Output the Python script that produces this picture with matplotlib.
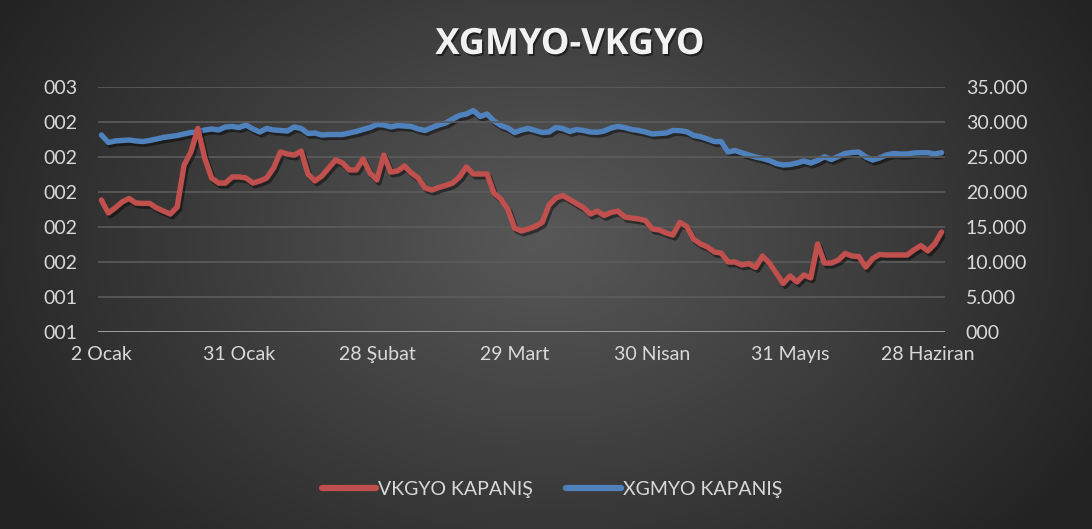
import numpy as np
import matplotlib
matplotlib.use('Agg')
import matplotlib.pyplot as plt
import matplotlib.patheffects as pe
from matplotlib.colors import LinearSegmentedColormap
from matplotlib.ticker import FuncFormatter, MultipleLocator

plt.rcParams['font.family'] = ['Lato', 'DejaVu Sans']

# VKGYO close (left axis) - one value per trading day
vkgyo = [1.954, 1.880, 1.909, 1.943, 1.963, 1.937, 1.935, 1.935, 1.909, 1.891,
         1.874, 1.914, 2.154, 2.229, 2.363, 2.194, 2.080, 2.051, 2.051, 2.086,
         2.086, 2.080, 2.051, 2.063, 2.080, 2.137, 2.229, 2.217, 2.211, 2.234,
         2.103, 2.063, 2.091, 2.137, 2.183, 2.166, 2.126, 2.126, 2.189, 2.109,
         2.069, 2.211, 2.114, 2.120, 2.149, 2.109, 2.080, 2.023, 2.011, 2.026,
         2.037, 2.051, 2.086, 2.143, 2.103, 2.103, 2.103, 1.994, 1.960, 1.903,
         1.794, 1.777, 1.789, 1.803, 1.826, 1.926, 1.966, 1.980, 1.957, 1.934,
         1.911, 1.874, 1.891, 1.866, 1.883, 1.891, 1.857, 1.851, 1.846, 1.837,
         1.789, 1.783, 1.766, 1.754, 1.826, 1.803, 1.731, 1.703, 1.686, 1.657,
         1.651, 1.600, 1.600, 1.583, 1.591, 1.569, 1.634, 1.594, 1.537, 1.477,
         1.520, 1.486, 1.526, 1.509, 1.703, 1.594, 1.594, 1.611, 1.649, 1.634,
         1.631, 1.571, 1.620, 1.643, 1.640, 1.640, 1.640, 1.640, 1.669, 1.694,
         1.663, 1.703, 1.771]
vkgyo = np.array(vkgyo) / 1000.0

# XGMYO close (right axis)
xgmyo = [28.14, 27.07, 27.29, 27.36, 27.43, 27.29, 27.21, 27.36, 27.57, 27.79,
         27.93, 28.07, 28.29, 28.50, 28.57, 28.86, 29.00, 28.86, 29.29, 29.36,
         29.21, 29.57, 29.00, 28.57, 29.07, 28.86, 28.79, 28.71, 29.29, 29.07,
         28.36, 28.43, 28.14, 28.21, 28.21, 28.21, 28.43, 28.64, 28.93, 29.21,
         29.64, 29.57, 29.29, 29.50, 29.43, 29.36, 29.00, 28.79, 29.21, 29.57,
         29.86, 30.43, 30.93, 31.14, 31.64, 30.79, 31.14, 30.14, 29.50, 29.14,
         28.50, 28.86, 29.07, 28.79, 28.50, 28.57, 29.21, 29.07, 28.64, 28.93,
         28.79, 28.57, 28.53, 28.71, 29.14, 29.36, 29.21, 28.93, 28.79, 28.57,
         28.29, 28.36, 28.43, 28.79, 28.76, 28.61, 28.07, 27.90, 27.57, 27.21,
         27.19, 25.71, 25.93, 25.60, 25.29, 25.00, 24.79, 24.50, 24.07, 23.86,
         23.93, 24.14, 24.43, 24.14, 24.50, 25.04, 24.64, 25.07, 25.50, 25.64,
         25.71, 25.00, 24.57, 24.86, 25.29, 25.50, 25.43, 25.43, 25.57, 25.61,
         25.61, 25.43, 25.61]

date_labels = ['2 Ocak', '31 Ocak', '28 Şubat', '29 Mart', '30 Nisan', '31 Mayıs', '28 Haziran']
label_step = 20

text_col = '#d9d9d9'


def fmt(v, pos):
    s = '%.3f' % v
    if s.startswith('0.'):
        s = s[2:]
    return s


fig = plt.figure(figsize=(10.92, 5.29), dpi=100)

# background gradient
bg = fig.add_axes([0, 0, 1, 1], zorder=-10)
yy, xx = np.mgrid[0:1:300j, 0:1:600j]
r = np.sqrt(((xx - 0.5) / 0.5) ** 2 + ((yy - 0.45) / 0.75) ** 2)
cmap = LinearSegmentedColormap.from_list('bg', ['#585858', '#3e3e3e', '#232323'])
bg.imshow(np.clip(r / 1.15, 0, 1), cmap=cmap, vmin=0, vmax=1, aspect='auto', extent=[0, 1, 0, 1])
bg.axis('off')

ax = fig.add_axes([98 / 1092, 197 / 529, 847 / 1092, 245 / 529])
ax2 = ax.twinx()
ax.set_zorder(ax2.get_zorder() + 1)
ax.patch.set_visible(False)
ax2.patch.set_visible(False)

x = np.arange(len(vkgyo))
shadow = [pe.SimpleLineShadow(offset=(1.5, -2), shadow_color='black', alpha=0.45), pe.Normal()]
ax.plot(x, vkgyo, color='#c0504d', lw=3.9, solid_capstyle='round', solid_joinstyle='round',
        path_effects=shadow, label='VKGYO KAPANIŞ')
ax2.plot(x, xgmyo, color='#4f81bd', lw=3.9, solid_capstyle='round', solid_joinstyle='round',
         path_effects=shadow, label='XGMYO KAPANIŞ')

ax.set_xlim(-0.5, len(x) - 0.5)
ax.set_ylim(0.0012, 0.0026)
ax.yaxis.set_major_locator(MultipleLocator(0.0002))
ax2.set_ylim(0, 35)
ax2.yaxis.set_major_locator(MultipleLocator(5))
ax.yaxis.set_major_formatter(FuncFormatter(fmt))
ax2.yaxis.set_major_formatter(FuncFormatter(fmt))

ax.set_xticks(np.arange(0, len(x), label_step)[:len(date_labels)])
ax.set_xticklabels(date_labels)

ax.grid(axis='y', color='#5c5c5c', lw=1.2)
ax.set_axisbelow(True)
for a in (ax, ax2):
    for s in ['top', 'left', 'right', 'bottom']:
        a.spines[s].set_visible(False)
    a.tick_params(length=0, labelsize=14, labelcolor=text_col)
ax.axhline(0.0012, color='#a6a6a6', lw=2, zorder=1)
ax.tick_params(axis='y', pad=15)
ax2.tick_params(axis='y', pad=15)
ax.tick_params(axis='x', pad=10)

fig.text(0.522, 0.915, 'XGMYO-VKGYO', ha='center', va='center', fontsize=26,
         fontweight='bold', color='#f2f2f2', family=['Open Sans', 'DejaVu Sans'],
         path_effects=[pe.withSimplePatchShadow(offset=(1.2, -1.5), shadow_rgbFace='black', alpha=0.5)])

h1, l1 = ax.get_legend_handles_labels()
h2, l2 = ax2.get_legend_handles_labels()
leg = fig.legend(h1 + h2, l1 + l2, loc='center', bbox_to_anchor=(552 / 1092, 1 - 489 / 529), ncol=2,
                 frameon=False, fontsize=14, labelcolor=text_col, handlelength=2.8,
                 handletextpad=0.1, columnspacing=1.7)
for line in leg.get_lines():
    line.set_path_effects([])
    line.set_linewidth(4.5)

fig.savefig('out.png', dpi=100)
